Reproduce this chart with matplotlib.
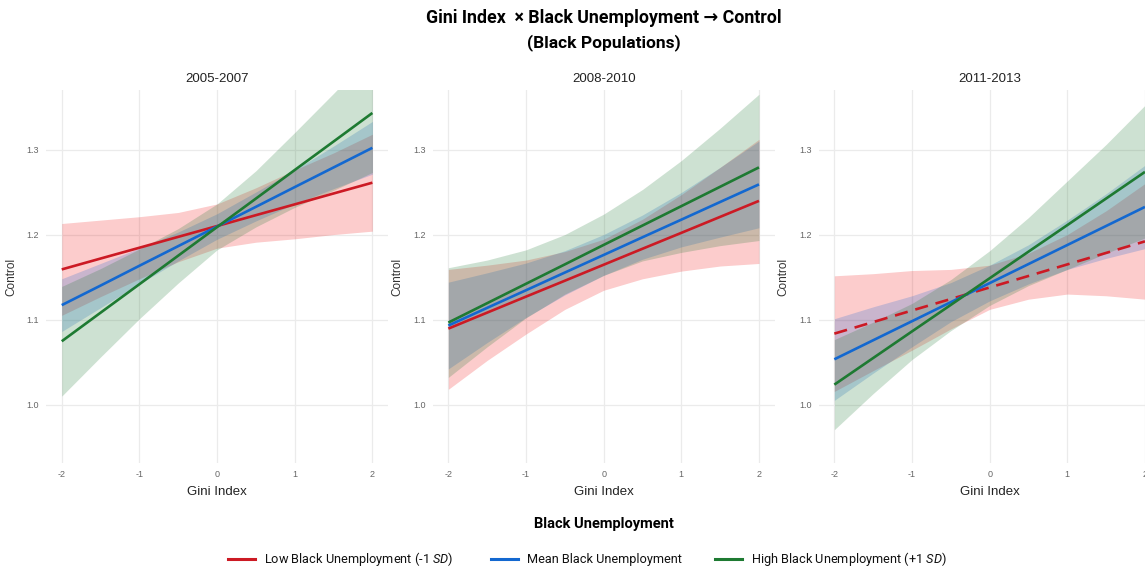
import matplotlib
matplotlib.use('Agg')
from matplotlib import pyplot as plt
from matplotlib.lines import Line2D

plt.rcParams['font.family'] = ['Liberation Sans', 'DejaVu Sans']
plt.rcParams['mathtext.fontset'] = 'custom'
plt.rcParams['mathtext.rm'] = 'Roboto'
plt.rcParams['mathtext.it'] = 'Roboto:italic'

# =============================================================================
# Data, one row per period
# =============================================================================

periods = ['2005-2007', '2008-2010', '2011-2013']
gini = [-2, -1.5, -1, -0.5, 0, 0.5, 1, 1.5, 2]
x_ticks = [-2, -1, 0, 1, 2]
x_labels = ['-2', '-1', '0', '1', '2']
y_ticks = [1.0, 1.1, 1.2, 1.3]
y_labels = ['1.0', '1.1', '1.2', '1.3']
groups = ['Low Black Unemployment (-1 $\\mathit{SD}$)',
          'Mean Black Unemployment',
          'High Black Unemployment (+1 $\\mathit{SD}$)']

# low black unemployment (-1 SD)
low_fit = [[1.159, 1.1718, 1.1845, 1.1973, 1.210, 1.2228, 1.2355, 1.2483, 1.261],
           [1.0894, 1.1082, 1.127, 1.1457, 1.1645, 1.1833, 1.202, 1.2208, 1.2396],
           [1.0835, 1.0971, 1.1107, 1.1242, 1.1378, 1.1513, 1.1649, 1.1784, 1.192]]
low_lo = [[1.105, 1.127, 1.148, 1.168, 1.184, 1.191, 1.195, 1.200, 1.204],
          [1.018, 1.052, 1.083, 1.112, 1.1345, 1.148, 1.157, 1.163, 1.166],
          [1.0155, 1.040, 1.064, 1.089, 1.112, 1.124, 1.130, 1.128, 1.124]]
low_hi = [[1.213, 1.217, 1.221, 1.226, 1.236, 1.255, 1.276, 1.296, 1.318],
          [1.159, 1.164, 1.170, 1.180, 1.1945, 1.218, 1.247, 1.279, 1.312],
          [1.1515, 1.154, 1.1577, 1.159, 1.164, 1.178, 1.200, 1.228, 1.260]]

# mean black unemployment
mean_fit = [[1.117, 1.140, 1.1633, 1.1864, 1.2095, 1.2326, 1.2558, 1.2789, 1.302],
            [1.093, 1.1138, 1.1345, 1.1553, 1.176, 1.1968, 1.2175, 1.2383, 1.259],
            [1.0533, 1.0757, 1.0981, 1.1205, 1.1429, 1.1653, 1.1877, 1.2101, 1.2325]]
mean_lo = [[1.086, 1.114, 1.142, 1.169, 1.1945, 1.216, 1.236, 1.254, 1.271],
           [1.042, 1.073, 1.1025, 1.129, 1.152, 1.171, 1.1855, 1.197, 1.208],
           [1.005, 1.037, 1.068, 1.0975, 1.122, 1.142, 1.159, 1.172, 1.1835]]
mean_hi = [[1.148, 1.166, 1.184, 1.203, 1.2245, 1.250, 1.276, 1.304, 1.333],
           [1.144, 1.155, 1.1665, 1.181, 1.200, 1.223, 1.2495, 1.279, 1.310],
           [1.101, 1.115, 1.128, 1.1435, 1.164, 1.188, 1.217, 1.248, 1.2815]]

# high black unemployment (+1 SD)
high_fit = [[1.0745, 1.1081, 1.1416, 1.1752, 1.2088, 1.2423, 1.2759, 1.3094, 1.343],
            [1.0965, 1.1193, 1.1421, 1.1649, 1.1878, 1.2106, 1.2334, 1.2562, 1.279],
            [1.0235, 1.0548, 1.0861, 1.1173, 1.1486, 1.1799, 1.2111, 1.2424, 1.2737]]
high_lo = [[1.010, 1.056, 1.101, 1.143, 1.182, 1.209, 1.232, 1.252, 1.273],
           [1.032, 1.068, 1.102, 1.130, 1.152, 1.169, 1.179, 1.187, 1.193],
           [0.9705, 1.013, 1.053, 1.087, 1.1166, 1.140, 1.159, 1.178, 1.196]]
high_hi = [[1.139, 1.160, 1.183, 1.207, 1.236, 1.275, 1.320, 1.366, 1.413],
           [1.161, 1.170, 1.182, 1.200, 1.224, 1.253, 1.287, 1.325, 1.365],
           [1.0765, 1.097, 1.119, 1.147, 1.181, 1.220, 1.263, 1.306, 1.352]]

line_colors = ['#cc1a24', '#1368d0', '#1e7a32']
fill_colors = ['#f00000', '#1464d2', '#1e7832']
fill_alpha = [0.2, 0.22, 0.22]

# =============================================================================
# Plot
# =============================================================================

W, H = 1145, 568
fig = plt.figure(figsize=(W / 100, H / 100), dpi=100)

lefts = [46.2, 432.8, 818.8]
ax_w = 341.7
ax_top, ax_bot = 90, 463.3

series = [(low_fit, low_lo, low_hi), (mean_fit, mean_lo, mean_hi),
          (high_fit, high_lo, high_hi)]

for p, period in enumerate(periods):
    ax = fig.add_axes([lefts[p] / W, 1 - ax_bot / H, ax_w / W, (ax_bot - ax_top) / H])
    for s, (fit, lo, hi) in enumerate(series):
        ax.fill_between(gini, lo[p], hi[p], color=fill_colors[s],
                        alpha=fill_alpha[s], lw=0)
    for s, (fit, lo, hi) in enumerate(series):
        ls = (0, (5, 3)) if (p == 2 and s == 0) else '-'
        ax.plot(gini, fit[p], color=line_colors[s], lw=1.9, ls=ls,
                solid_capstyle='butt')

    ax.set_xlim(-2.2, 2.2)
    ax.set_ylim(0.931, 1.370)
    ax.set_xticks(x_ticks)
    ax.set_xticklabels(x_labels)
    ax.set_yticks(y_ticks)
    ax.set_yticklabels(y_labels)
    ax.tick_params(length=0, labelsize=6.5, labelcolor='#666666', pad=5)
    ax.grid(True, color='#ebebeb', lw=0.9)
    ax.set_axisbelow(True)
    for sp in ax.spines.values():
        sp.set_visible(False)
    ax.set_xlabel('Gini Index', fontsize=9.5, color='#222222', labelpad=5)
    ax.set_ylabel('Control', fontsize=8.5, color='#333333', labelpad=7)
    ax.set_title(period, fontsize=9.5, color='#222222', pad=6)

# title
fig.text(604 / W, 1 - 18 / H, 'Gini Index  \u00d7 Black Unemployment \u2192 Control',
         ha='center', va='center', fontsize=12.8, fontweight='bold',
         family=['Roboto', 'DejaVu Sans'])
fig.text(604 / W, 1 - 43 / H, '(Black Populations)',
         ha='center', va='center', fontsize=12.5, fontweight='bold',
         family=['Roboto', 'DejaVu Sans'])

# legend (drawn by hand so it matches the layout)
fig.text(604 / W, 1 - 524 / H, 'Black Unemployment', ha='center', va='center',
         fontsize=10.5, fontweight='bold', family=['Roboto', 'DejaVu Sans'])
handle_x = [228, 491, 715]
for s, label in enumerate(groups):
    x0 = handle_x[s]
    fig.add_artist(Line2D([x0 / W, (x0 + 27) / W], [1 - 559 / H, 1 - 559 / H],
                          color=line_colors[s], lw=2.2, transform=fig.transFigure))
    fig.text((x0 + 36) / W, 1 - 559 / H, label, ha='left', va='center',
             fontsize=9.2, family=['Roboto', 'DejaVu Sans'], color='#111111')

fig.savefig('out.png', dpi=100)
